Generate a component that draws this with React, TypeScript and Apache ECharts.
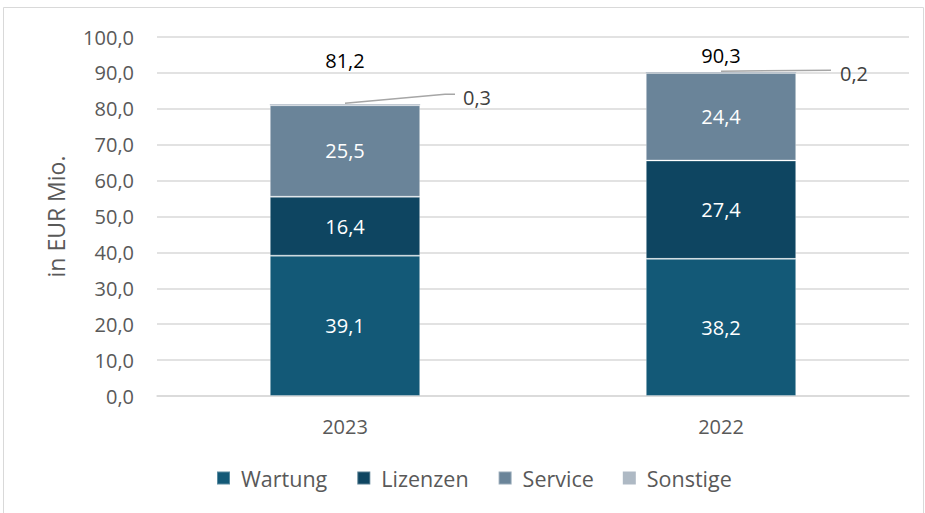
import React, { useEffect, useRef } from "react";
import * as echarts from "echarts";

const categories = ["2023", "2022"];
const wartung = [39.1, 38.2];
const lizenzen = [16.4, 27.4];
const service = [25.5, 24.4];
const sonstige = [0.3, 0.2];
const totals = [81.2, 90.3];
const seriesNames = ["Wartung", "Lizenzen", "Service", "Sonstige"];

// label placement (pixels, relative to the top of each stack)
const totalLabelDy = [-44, -17];
const calloutMid = [[100, -10], [110, -2]];
const calloutEnd = [[110, -10], [110, -2]];
const calloutLabel = [[118, -7], [119, 1]];

const FONT = "'Open Sans'";
const GREY = "#595959";
const COLORS = ["#135977", "#0e4561", "#6a8499", "#aeb9c4"];

const fmt = (v: number) => v.toFixed(1).replace(".", ",");

export default function App() {
  const ref = useRef<HTMLDivElement>(null);
  useEffect(() => {
    document.body.style.margin = "0";
    if (!ref.current) return;
    const chart = echarts.init(ref.current, null, { renderer: "svg" });
    const stackTops = categories.map((_, i) => wartung[i] + lizenzen[i] + service[i] + sonstige[i]);
    const segs = [wartung, lizenzen, service];
    const barSeries: any[] = segs.map((d, k) => ({
      name: seriesNames[k],
      type: "bar",
      stack: "total",
      barWidth: "40%",
      data: d,
      itemStyle: { color: COLORS[k], borderColor: "rgba(255,255,255,0.3)", borderWidth: 1 },
      label: {
        show: true,
        position: "inside",
        color: "#ffffff",
        fontFamily: FONT,
        fontSize: 20,
        formatter: (p: any) => fmt(p.value),
      },
    }));
    barSeries.push({
      name: seriesNames[3],
      type: "bar",
      stack: "total",
      barWidth: "40%",
      data: sonstige,
      itemStyle: { color: COLORS[3] },
    });
    barSeries.push({
      type: "custom",
      name: "labels",
      clip: false,
      silent: true,
      data: categories.map((_, i) => [i, stackTops[i]]),
      encode: { x: 0, y: 1 },
      renderItem: (params: any, api: any) => {
        const i = params.dataIndex;
        const p = api.coord([api.value(0), api.value(1)]);
        const x = p[0];
        const y = p[1];
        return {
          type: "group",
          children: [
            {
              type: "text",
              style: {
                x: x,
                y: y + totalLabelDy[i],
                text: fmt(totals[i]),
                fill: "#000000",
                font: `20px ${FONT}`,
                align: "center",
                verticalAlign: "middle",
              },
            },
            {
              type: "polyline",
              shape: {
                points: [
                  [x, y - 1],
                  [x + calloutMid[i][0], y + calloutMid[i][1]],
                  [x + calloutEnd[i][0], y + calloutEnd[i][1]],
                ],
              },
              style: { stroke: "#a6a6a6", lineWidth: 1.5, fill: "none" },
            },
            {
              type: "text",
              style: {
                x: x + calloutLabel[i][0],
                y: y + calloutLabel[i][1],
                text: fmt(sonstige[i]),
                fill: "#404040",
                font: `20px ${FONT}`,
                align: "left",
                verticalAlign: "middle",
              },
            },
          ],
        };
      },
    });

    chart.setOption({
      animation: false,
      graphic: [
        {
          type: "rect",
          shape: { x: 3.5, y: 7.5, width: 920, height: 510 },
          style: { fill: "none", stroke: "#d9d9d9", lineWidth: 1 },
          z: -10,
        },
      ],
      grid: { left: 157, right: 16, top: 37, bottom: 117 },
      legend: {
        data: seriesNames,
        left: 211,
        top: 462,
        icon: "rect",
        itemWidth: 13,
        itemHeight: 13,
        itemGap: 29,
        textStyle: { color: GREY, fontFamily: FONT, fontSize: 21.5, padding: [0, 0, 0, 6] },
      },
      xAxis: {
        type: "category",
        data: categories,
        axisLine: { show: true, lineStyle: { color: "#d9d9d9", width: 1.5 } },
        axisTick: { show: false },
        axisLabel: { color: GREY, fontFamily: FONT, fontSize: 20, margin: 20 },
      },
      yAxis: {
        type: "value",
        min: 0,
        max: 100,
        interval: 10,
        name: "in EUR Mio.",
        nameLocation: "middle",
        nameGap: 90,
        nameRotate: 90,
        nameTextStyle: { color: GREY, fontFamily: FONT, fontSize: 23 },
        axisLine: { show: false },
        axisTick: { show: false },
        splitLine: { lineStyle: { color: "#d9d9d9", width: 1.5 } },
        axisLabel: {
          color: GREY,
          fontFamily: FONT,
          fontSize: 20,
          margin: 23,
          formatter: (v: number) => fmt(v),
        },
      },
      series: barSeries,
    });
    return () => chart.dispose();
  }, []);
  return <div ref={ref} style={{ width: 925, height: 513 }} />;
}
